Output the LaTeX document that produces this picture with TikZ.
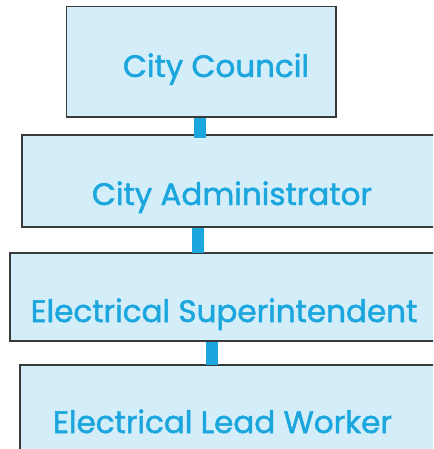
\documentclass[tikz,border=0pt]{standalone}
\usepackage{fontspec}
\setmainfont{Poppins}
\newfontfamily\orgfont[FakeBold=1.6]{Poppins}
\definecolor{boxfill}{HTML}{D4EEF9}
\definecolor{boxline}{HTML}{3A3A3A}
\definecolor{labelblue}{HTML}{1BA6DE}
\tikzset{
  orgbox/.style={draw=boxline, line width=1.3pt, fill=boxfill, rectangle, inner sep=0pt},
  orglabel/.style={text=labelblue, font=\orgfont\fontsize{31}{31}\selectfont, anchor=base, inner sep=0pt},
  conn/.style={draw=labelblue, line width=12pt, line cap=butt}
}
\begin{document}
\begin{tikzpicture}[x=1pt,y=-1pt]
\useasboundingbox (0,0) rectangle (433,449);
\clip (0,0) rectangle (433,449);
\node[orgbox, minimum width=269.5pt, minimum height=110.5pt] (b1) at (201.25,61.75) {};
\node[orgbox, minimum width=420pt, minimum height=92pt] (b2) at (232,181) {};
\node[orgbox, minimum width=428pt, minimum height=88pt] (b3) at (224,297) {};
\node[orgbox, minimum width=425pt, minimum height=110pt] (b4) at (232.5,420) {};
\draw[conn] (b1.south -| 200,0) -- ([yshift=-4pt]b2.north -| 200,0);
\draw[conn] (b2.south -| 198,0) -- ([yshift=-1pt]b3.north -| 198,0);
\draw[conn] (b3.south -| 212,0) -- ([yshift=-1pt]b4.north -| 212,0);
\node[orglabel] (t1) at (216,77) {City Council};
\node[orglabel] (t2) at (232,205) {City Administrator};
\node[orglabel] (t3) at (224,322) {Electrical Superintendent};
\node[orglabel] (t4) at (222.5,433) {Electrical Lead Worker};
\end{tikzpicture}
\end{document}
